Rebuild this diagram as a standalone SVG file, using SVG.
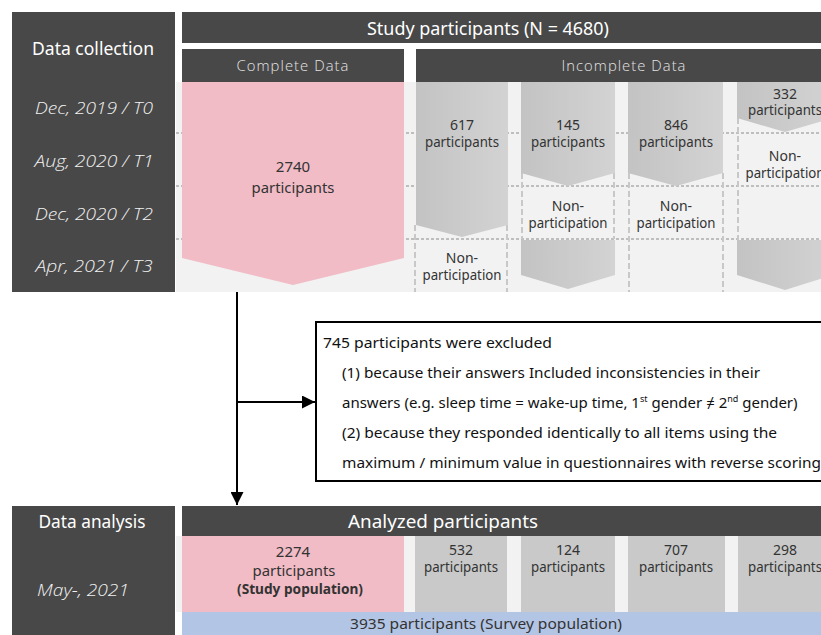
<svg xmlns="http://www.w3.org/2000/svg" width="821" height="635" viewBox="0 0 821 635">
<style>
text{font-family:"Noto Sans","Open Sans","Liberation Sans",sans-serif;}
.dark{fill:#484848;}
.pink{fill:#f1bcc6;}
.gray{fill:url(#gg);}
.cell{fill:#c9c9c9;}
.hw{fill:#ffffff;font-size:18px;text-anchor:middle;}
.hs{fill:#e4e4e4;font-size:14px;text-anchor:middle;letter-spacing:1px;font-family:"Open Sans","Noto Sans",sans-serif;font-weight:300;}
.date{fill:#f2f2f2;font-size:17px;font-style:italic;text-anchor:middle;font-family:"Open Sans","Noto Sans",sans-serif;font-weight:300;}
.t{fill:#333333;font-size:14px;text-anchor:middle;}
.tb{fill:#333333;font-size:15px;text-anchor:middle;}
.hd{stroke:#8a8a8a;stroke-width:1;stroke-dasharray:3 2;fill:none;}
.vd{stroke:#c8c8c8;stroke-width:2;stroke-dasharray:6 3;fill:none;}
.ln{stroke:#000;stroke-width:2;fill:none;}
.bx{fill:#111;font-size:15px;}
</style>
<defs>
<linearGradient id="gg" x1="0" y1="0" x2="1" y2="0">
<stop offset="0" stop-color="#c3c3c3"/>
<stop offset="1" stop-color="#d3d3d3"/>
</linearGradient>
<marker id="ah" viewBox="0 0 10 10" refX="10" refY="5" markerWidth="6.5" markerHeight="6.5" orient="auto" markerUnits="strokeWidth">
<path d="M0,0 L10,5 L0,10 Z" fill="#000"/>
</marker>
</defs>

<rect x="0" y="0" width="821" height="635" fill="#ffffff"/>

<g id="collection-label">
<rect class="dark" x="12" y="12" width="163" height="280"/>
<text class="hw" x="93" y="55" font-size="17" textLength="122" lengthAdjust="spacingAndGlyphs">Data collection</text>
<text class="date" x="94" y="114" textLength="118" lengthAdjust="spacingAndGlyphs">Dec, 2019 / T0</text>
<text class="date" x="94" y="167" textLength="119" lengthAdjust="spacingAndGlyphs">Aug, 2020 / T1</text>
<text class="date" x="94" y="220" textLength="118" lengthAdjust="spacingAndGlyphs">Dec, 2020 / T2</text>
<text class="date" x="94" y="272" textLength="117" lengthAdjust="spacingAndGlyphs">Apr, 2021 / T3</text>
</g>

<g id="study-participants">
<rect class="dark" x="182" y="12" width="639" height="31"/>
<text class="hw" x="488" y="35" textLength="242" lengthAdjust="spacingAndGlyphs">Study participants (N = 4680)</text>
</g>

<g id="grid-background">
<rect x="176" y="82" width="645" height="210" fill="#f2f2f2"/>
<line class="hd" x1="176" y1="133" x2="821" y2="133"/>
<line class="hd" x1="176" y1="186" x2="821" y2="186"/>
<line class="hd" x1="176" y1="239" x2="821" y2="239"/>
</g>

<g id="complete-data">
<rect class="dark" x="182" y="49" width="222" height="33"/>
<text class="hs" x="293" y="71" textLength="113" lengthAdjust="spacingAndGlyphs">Complete Data</text>
<polygon class="pink" points="182,82 404,82 404,258 293,285 182,258"/>
<text class="tb" x="293" y="172">2740</text>
<text class="tb" x="293" y="193" textLength="83" lengthAdjust="spacingAndGlyphs">participants</text>
</g>

<g id="incomplete-data">
<rect class="dark" x="416" y="49" width="405" height="33"/>
<text class="hs" x="624" y="71" textLength="125" lengthAdjust="spacingAndGlyphs">Incomplete Data</text>
</g>

<g id="col-617">
<line class="vd" x1="415" y1="225" x2="415" y2="292"/>
<line class="vd" x1="507" y1="225" x2="507" y2="292"/>
<polygon class="gray" points="416,82 508,82 508,225 462,237 416,225"/>
<text class="t" x="462" y="130">617</text>
<text class="t" x="462" y="147" textLength="74" lengthAdjust="spacingAndGlyphs">participants</text>
<text class="t" x="462" y="263">Non-</text>
<text class="t" x="462" y="280" textLength="79" lengthAdjust="spacingAndGlyphs">participation</text>
</g>

<g id="col-145">
<line class="vd" x1="522" y1="173" x2="522" y2="239"/>
<line class="vd" x1="614" y1="173" x2="614" y2="239"/>
<polygon class="gray" points="521,82 615,82 615,173 568,186 521,173"/>
<text class="t" x="568" y="130">145</text>
<text class="t" x="568" y="147" textLength="74" lengthAdjust="spacingAndGlyphs">participants</text>
<text class="t" x="568" y="211">Non-</text>
<text class="t" x="568" y="228" textLength="79" lengthAdjust="spacingAndGlyphs">participation</text>
<polygon class="gray" points="521,240 615,240 615,275 568,289 521,275"/>
</g>

<g id="col-846">
<line class="vd" x1="629" y1="173" x2="629" y2="292"/>
<line class="vd" x1="723" y1="173" x2="723" y2="292"/>
<polygon class="gray" points="628,82 723,82 723,173 676,186 628,173"/>
<text class="t" x="676" y="130">846</text>
<text class="t" x="676" y="147" textLength="74" lengthAdjust="spacingAndGlyphs">participants</text>
<text class="t" x="676" y="211">Non-</text>
<text class="t" x="676" y="228" textLength="79" lengthAdjust="spacingAndGlyphs">participation</text>
</g>

<g id="col-332">
<line class="vd" x1="738" y1="118" x2="738" y2="240"/>
<polygon class="gray" points="737,82 833,82 833,118 785,132 737,118"/>
<text class="t" x="785" y="99">332</text>
<text class="t" x="785" y="115" textLength="74" lengthAdjust="spacingAndGlyphs">participants</text>
<text class="t" x="785" y="161">Non-</text>
<text class="t" x="785" y="178" textLength="79" lengthAdjust="spacingAndGlyphs">participation</text>
<polygon class="gray" points="737,240 833,240 833,275 785,290 737,275"/>
</g>

<g id="exclusion-box">
<rect x="316" y="322" width="520" height="159" fill="#ffffff" stroke="#000" stroke-width="2"/>
<text class="bx" x="323" y="348" textLength="229" lengthAdjust="spacingAndGlyphs">745 participants were excluded</text>
<text class="bx" x="342" y="378" textLength="418" lengthAdjust="spacingAndGlyphs">(1) because their answers Included inconsistencies in their</text>
<text class="bx" x="342" y="408">answers (e.g. sleep time = wake-up time, 1<tspan font-size="9" dy="-6">st</tspan><tspan dy="6"> gender ≠ 2</tspan><tspan font-size="9" dy="-6">nd</tspan><tspan dy="6"> gender)</tspan></text>
<text class="bx" x="342" y="438" textLength="435" lengthAdjust="spacingAndGlyphs">(2) because they responded identically to all items using the</text>
<text class="bx" x="342" y="468" textLength="479" lengthAdjust="spacingAndGlyphs">maximum / minimum value in questionnaires with reverse scoring</text>
</g>

<g id="connectors">
<line class="ln" x1="237" y1="292" x2="237" y2="505" marker-end="url(#ah)"/>
<line class="ln" x1="237" y1="402" x2="315" y2="402" marker-end="url(#ah)"/>
</g>

<g id="analysis-label">
<rect class="dark" x="12" y="506" width="163" height="129"/>
<text class="hw" x="92" y="528" font-size="17" textLength="107" lengthAdjust="spacingAndGlyphs">Data analysis</text>
<text class="date" x="37" y="596" style="text-anchor:start" textLength="92" lengthAdjust="spacingAndGlyphs">May-, 2021</text>
</g>

<g id="analyzed-participants">
<rect class="dark" x="182" y="506" width="639" height="30"/>
<text class="hw" x="443" y="528" textLength="190" lengthAdjust="spacingAndGlyphs">Analyzed participants</text>
<rect x="176" y="536" width="645" height="76" fill="#f2f2f2"/>
</g>

<g id="cell-2274">
<rect class="pink" x="182" y="536" width="222" height="76"/>
<text class="tb" x="293" y="557">2274</text>
<text class="tb" x="294" y="576" textLength="83" lengthAdjust="spacingAndGlyphs">participants</text>
<text class="tb" x="300" y="594" font-size="13" font-weight="bold" textLength="126" lengthAdjust="spacingAndGlyphs">(Study population)</text>
</g>

<g id="cell-532">
<rect class="cell" x="415" y="536" width="92" height="76"/>
<text class="t" x="461" y="555">532</text>
<text class="t" x="461" y="572" textLength="74" lengthAdjust="spacingAndGlyphs">participants</text>
</g>
<g id="cell-124">
<rect class="cell" x="521" y="536" width="94" height="76"/>
<text class="t" x="568" y="555">124</text>
<text class="t" x="568" y="572" textLength="74" lengthAdjust="spacingAndGlyphs">participants</text>
</g>
<g id="cell-707">
<rect class="cell" x="628" y="536" width="97" height="76"/>
<text class="t" x="676" y="555">707</text>
<text class="t" x="676" y="572" textLength="74" lengthAdjust="spacingAndGlyphs">participants</text>
</g>
<g id="cell-298">
<rect class="cell" x="738" y="536" width="95" height="76"/>
<text class="t" x="785" y="555">298</text>
<text class="t" x="785" y="572" textLength="74" lengthAdjust="spacingAndGlyphs">participants</text>
</g>

<g id="survey-population">
<rect x="182" y="612" width="639" height="23" fill="#b3c5e4"/>
<text class="tb" x="486" y="629" font-size="16" textLength="272" lengthAdjust="spacingAndGlyphs">3935 participants (Survey population)</text>
</g>
</svg>
